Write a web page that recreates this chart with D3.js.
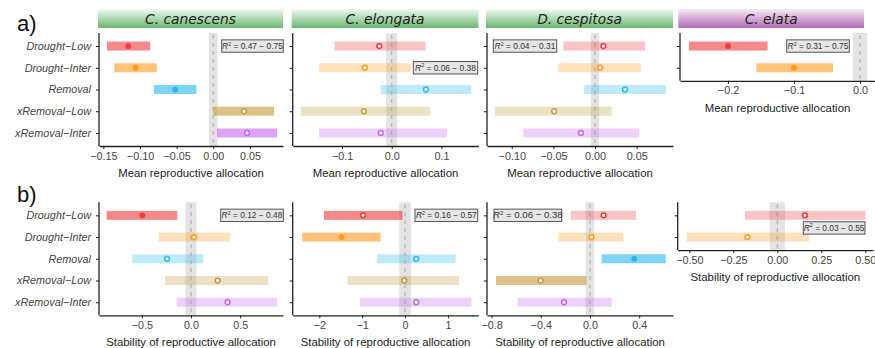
<!DOCTYPE html>
<html>
<head>
<meta charset="utf-8">
<script src="https://cdn.jsdelivr.net/npm/d3@7"></script>
<style>
  body { margin: 0; background: #fff; }
  svg { font-family: "Liberation Sans", Arial, sans-serif; }
  .tick text { fill: #444; font-size: 10.8px; }
  .domain, .tick line { stroke: #222; }
</style>
</head>
<body>
<div id="chart"></div>
<script>
// treatments (top to bottom)
var treatments = ["Drought\u2212Low", "Drought\u2212Inter", "Removal", "xRemoval\u2212Low", "xRemoval\u2212Inter"];
var treatColors = ["#ee3b3b", "#ff9a1f", "#27b8ec", "#c49a3a", "#c266f0"];
var species = ["C. canescens", "C. elongata", "D. cespitosa", "C. elata"];

// a) mean reproductive allocation
var meanEst = [
  [-0.116, -0.106, -0.052, 0.042, 0.046],
  [-0.025, -0.054, 0.069, -0.056, -0.022],
  [0.010, 0.006, 0.036, -0.049, -0.017],
  [-0.200, -0.100]
];
var meanLo = [
  [-0.145, -0.135, -0.081, 0.000, 0.005],
  [-0.115, -0.146, -0.022, -0.183, -0.146],
  [-0.038, -0.044, -0.013, -0.120, -0.086],
  [-0.259, -0.157]
];
var meanHi = [
  [-0.086, -0.077, -0.023, 0.083, 0.087],
  [0.068, 0.038, 0.160, 0.077, 0.111],
  [0.060, 0.055, 0.085, 0.020, 0.053],
  [-0.140, -0.041]
];
var meanStrong = [[1, 1, 1, 1, 1], [0, 0, 0, 0, 0], [0, 0, 0, 0, 0], [1, 1]];
var meanFilled = [[1, 1, 1, 0, 0], [0, 0, 0, 0, 0], [0, 0, 0, 0, 0], [1, 1]];
var meanZone = [0.006, 0.011, 0.005, 0.0106];
var meanR2 = ["0.47 \u2212 0.75", "0.06 \u2212 0.38", "0.04 \u2212 0.31", "0.31 \u2212 0.75"];
var meanTicks = [[-0.15, -0.10, -0.05, 0, 0.05], [-0.1, 0, 0.1], [-0.10, -0.05, 0, 0.05], [-0.2, -0.1, 0]];

// b) stability of reproductive allocation
var stabEst = [
  [-0.495, 0.031, -0.244, 0.271, 0.373],
  [-0.98, -1.48, 0.26, -0.02, 0.26],
  [0.111, 0.011, 0.360, -0.401, -0.211],
  [0.157, -0.170]
];
var stabLo = [
  [-0.858, -0.329, -0.597, -0.264, -0.146],
  [-1.89, -2.40, -0.65, -1.34, -1.05],
  [-0.157, -0.258, 0.095, -0.764, -0.588],
  [-0.184, -0.515]
];
var stabHi = [
  [-0.139, 0.397, 0.125, 0.786, 0.878],
  [-0.06, -0.57, 1.18, 1.26, 1.55],
  [0.374, 0.271, 0.615, -0.027, 0.176],
  [0.502, 0.180]
];
var stabStrong = [[1, 0, 0, 0, 0], [1, 1, 0, 0, 0], [0, 0, 1, 1, 0], [0, 0]];
var stabFilled = [[1, 0, 0, 0, 0], [0, 1, 0, 0, 0], [0, 0, 1, 0, 0], [0, 0]];
var stabZone = [0.055, 0.135, 0.035, 0.043];
var stabR2 = ["0.12 \u2212 0.48", "0.16 \u2212 0.57", "0.06 \u2212 0.38", "0.03 \u2212 0.55"];
var stabTicks = [[-0.5, 0, 0.5], [-2, -1, 0, 1], [-0.8, -0.4, 0, 0.4], [-0.50, -0.25, 0, 0.25, 0.50]];

var svgWidth = 875, svgHeight = 348;
var svg = d3.select("#chart").append("svg")
  .attr("width", svgWidth)
  .attr("height", svgHeight);

var defs = svg.append("defs");
function stripGrad(id, top, bottom) {
  var g = defs.append("linearGradient").attr("id", id)
    .attr("x1", 0).attr("y1", 0).attr("x2", 0).attr("y2", 1);
  g.append("stop").attr("offset", "0%").attr("stop-color", top);
  g.append("stop").attr("offset", "100%").attr("stop-color", bottom);
}
stripGrad("green", "#f2f9f2", "#68b76e");
stripGrad("purple", "#f7eaf5", "#b26ab5");

// panel layout (pixels)
var panelX = [[99, 283], [292.7, 478.3], [487, 673], [680, 875]];
var panelXb = [[99, 283], [292.7, 478.3], [487, 673], [677.7, 873]];
var rowTop = [33, 202.3];
var rowStep = 21.73;
var meanDomain = [[-0.1559, 0.0951], [-0.1992, 0.1742], [-0.1297, 0.0936], [-0.2727, 0.0227]];
var stabDomain = [[-0.936, 0.936], [-2.621, 1.708], [-0.837, 0.675], [-0.566, 0.544]];
var tickFmt = [[".2f", ".1f", ".2f", ".1f"], [".1f", "d", ".1f", ".2f"]];
// R2 boxes: [left, right, row position]
var meanBox = [[221.7, 283.3, 0], [413.3, 477.7, 1], [493.3, 556.7, 0], [786.7, 849.3, 0]];
var stabBox = [[220.7, 283.3, 0], [415, 477.7, 0], [494, 561.7, 0], [803.3, 865, 0.58]];

function drawPanel(row, i, est, lo, hi, strong, filled, zone, r2, ticks, domain, xr, box, title) {
  var n = est.length;
  var top = rowTop[row];
  var bottom = top + rowStep * (n - 1 + 1.2);
  var cats = treatments.slice(0, n);

  var x = d3.scaleLinear().domain(domain).range(xr);
  var y = d3.scalePoint().domain(cats).range([top, bottom]).padding(0.6);

  var g = svg.append("g");

  // equivalence zone + zero line
  g.append("rect")
    .attr("x", x(-zone)).attr("width", x(zone) - x(-zone))
    .attr("y", top).attr("height", bottom - top)
    .attr("fill", "#e3e3e3");
  g.append("line")
    .attr("x1", x(0)).attr("x2", x(0))
    .attr("y1", top + 2).attr("y2", bottom)
    .attr("stroke", "#b5b5b5").attr("stroke-width", 1.3)
    .attr("stroke-dasharray", "4,4");

  // interval bars
  g.selectAll(".bar").data(cats).enter().append("rect")
    .attr("x", (d, j) => x(lo[j]))
    .attr("width", (d, j) => x(hi[j]) - x(lo[j]))
    .attr("y", d => y(d) - 4.5)
    .attr("height", 9)
    .attr("fill", (d, j) => treatColors[j])
    .attr("opacity", (d, j) => strong[j] ? 0.6 : 0.3);

  // estimates
  g.selectAll(".pt").data(cats).enter().append("circle")
    .attr("cx", (d, j) => x(est[j]))
    .attr("cy", d => y(d))
    .attr("r", (d, j) => filled[j] ? 2.9 : 2.4)
    .attr("fill", (d, j) => filled[j] ? treatColors[j] : "#fff")
    .attr("stroke", (d, j) => treatColors[j])
    .attr("stroke-width", (d, j) => filled[j] ? 0 : 1.5);

  // axes
  var xAxis = d3.axisBottom(x).tickValues(ticks).tickFormat(d3.format(tickFmt[row][i]))
    .tickSize(3).tickSizeOuter(0).tickPadding(3);
  g.append("g").attr("transform", `translate(0,${bottom})`).call(xAxis)
    .select(".domain").attr("stroke-width", 1.3);
  var yAxis = d3.axisLeft(y).tickSize(3).tickSizeOuter(0).tickPadding(5);
  var ya = g.append("g").attr("transform", `translate(${xr[0]},0)`).call(yAxis);
  ya.select(".domain").attr("stroke-width", 1.3).attr("d", `M0,${top}V${bottom}`);
  if (i == 0) {
    ya.selectAll(".tick text")
      .attr("font-size", "12.6px").attr("font-style", "italic").attr("fill", "#222");
  } else {
    ya.selectAll(".tick text").remove();
  }

  // axis title
  g.append("text")
    .attr("x", (xr[0] + xr[1]) / 2)
    .attr("y", bottom + 31)
    .attr("text-anchor", "middle")
    .attr("font-size", "11.4px")
    .attr("fill", "#222")
    .text(row == 0 ? "Mean reproductive allocation" : "Stability of reproductive allocation");

  // R2 box
  var by = top + rowStep * (0.6 + box[2]);
  var bx = g.append("g");
  bx.append("rect")
    .attr("x", box[0]).attr("y", by - 6.2)
    .attr("width", box[1] - box[0]).attr("height", 12.4)
    .attr("fill", "#e6e6e6").attr("stroke", "#555").attr("stroke-width", 1);
  var big = (row == 1 && i == 2);
  var t = bx.append("text")
    .attr("x", (box[0] + box[1]) / 2).attr("y", by + 3)
    .attr("text-anchor", "middle")
    .attr("font-size", big ? "9.6px" : "8.4px")
    .attr("fill", "#333");
  t.append("tspan").attr("font-style", "italic").text("R");
  t.append("tspan").attr("font-size", big ? "6px" : "5.4px").attr("dy", -3.5).text("2");
  t.append("tspan").attr("dy", 3.5).text(" = " + r2);

  // strip
  if (title) {
    var sx0 = i == 3 ? 678.3 : xr[0] - 1, sx1 = i == 3 ? 864 : xr[1];
    g.append("rect")
      .attr("x", sx0).attr("y", 9)
      .attr("width", sx1 - sx0).attr("height", 19)
      .attr("fill", i == 3 ? "url(#purple)" : "url(#green)");
    g.append("text")
      .attr("x", (sx0 + sx1) / 2).attr("y", 23.8)
      .attr("text-anchor", "middle")
      .attr("font-family", "'DejaVu Sans', Verdana, sans-serif")
      .attr("font-size", "13.8px").attr("font-style", "italic")
      .attr("fill", "#222")
      .text(title);
  }
}

for (var i = 0; i < 4; i++) {
  drawPanel(0, i, meanEst[i], meanLo[i], meanHi[i], meanStrong[i], meanFilled[i], meanZone[i],
    meanR2[i], meanTicks[i], meanDomain[i], panelX[i], meanBox[i], species[i]);
  drawPanel(1, i, stabEst[i], stabLo[i], stabHi[i], stabStrong[i], stabFilled[i], stabZone[i],
    stabR2[i], stabTicks[i], stabDomain[i], panelXb[i], stabBox[i], null);
}

// panel letters
svg.append("text").attr("x", 17).attr("y", 31).attr("font-size", "22px").attr("fill", "#111").text("a)");
svg.append("text").attr("x", 17).attr("y", 202).attr("font-size", "22px").attr("fill", "#111").text("b)");
</script>
</body>
</html>
